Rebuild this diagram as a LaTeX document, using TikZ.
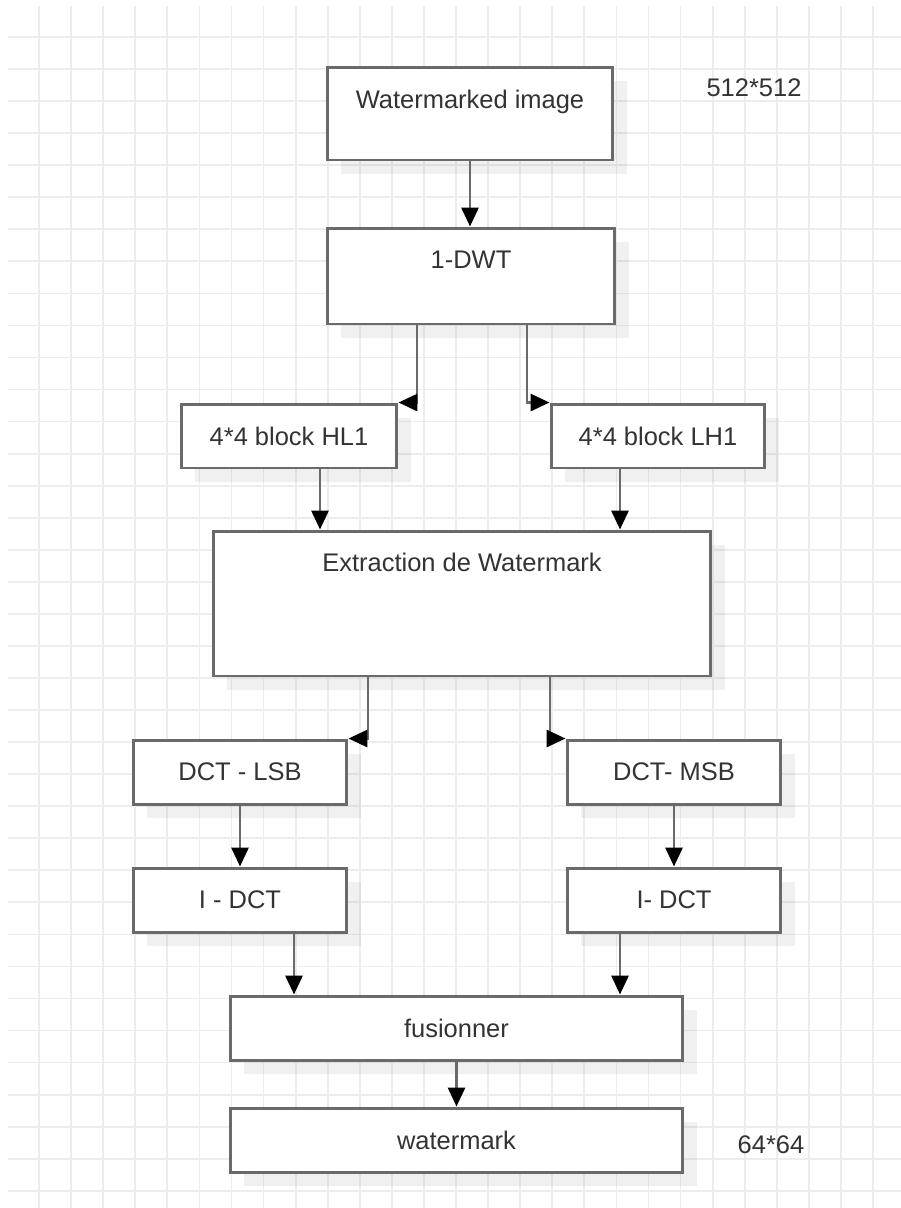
\documentclass[tikz,border=0pt]{standalone}
\usepackage{fontspec}
\setmainfont{Liberation Sans}
\usepackage{xcolor}
\usetikzlibrary{arrows.meta, calc, shadows}

\definecolor{boxgray}{HTML}{6A6A6A}
\definecolor{textgray}{HTML}{333333}
\definecolor{gridgray}{HTML}{EDEDED}

\tikzset{
  box/.style={draw=boxgray, line width=1.7pt, fill=white, text=textgray,
    font=\fontsize{14.5}{17}\selectfont, inner sep=0pt,
    drop shadow={shadow xshift=0.28cm, shadow yshift=-0.28cm, fill=black, opacity=0.06}},
  topbox/.style={box, text height=#1},
  flow/.style={draw=boxgray, line width=1.7pt, -{Triangle[length=0.38cm, width=0.34cm, color=black]}},
  size/.style={text=textgray, font=\fontsize{14.5}{17}\selectfont, inner sep=0pt}
}

\begin{document}
\begin{tikzpicture}[x=0.02cm, y=-0.02cm]
\useasboundingbox (0,0) rectangle (901,1208);
\fill[white] (0,0) rectangle (901,1208);

% grid
\foreach \i in {0,...,26}
  \draw[gridgray, line width=1pt] (39+32.08*\i,6) -- (39+32.08*\i,1208);
\foreach \j in {0,...,36}
  \draw[gridgray, line width=1pt] (8,37+32.05*\j) -- (901,37+32.05*\j);

% boxes
\node[topbox=0.82cm, text depth=1.04cm, minimum width=5.72cm] (wimg) at (470,113.5) {Watermarked image};
\node[topbox=0.8cm, text depth=1.12cm, minimum width=5.76cm] (dwt) at (471,276) {1-DWT};

\node[box, minimum width=4.32cm, minimum height=1.28cm] (hl) at (289,436) {4*4 block HL1};
\node[box, minimum width=4.28cm, minimum height=1.28cm] (lh) at (658,436) {4*4 block LH1};

\node[topbox=0.8cm, text depth=2.1cm, minimum width=9.96cm] (extr) at (462,603.5) {Extraction de Watermark};

\node[box, minimum width=4.28cm, minimum height=1.28cm] (lsb) at (240,772) {DCT - LSB};
\node[box, minimum width=4.28cm, minimum height=1.28cm] (msb) at (674,772) {DCT- MSB};
\node[box, minimum width=4.28cm, minimum height=1.28cm] (idl) at (240,900) {I - DCT};
\node[box, minimum width=4.28cm, minimum height=1.28cm] (idr) at (674,900) {I- DCT};

\node[box, minimum width=9.06cm, minimum height=1.28cm] (fus) at (456.5,1028) {fusionner};
\node[box, minimum width=9.06cm, minimum height=1.28cm] (wm) at (456.5,1140) {watermark};

\node[size] (insize) at (754,88) {512*512};
\node[size] (outsize) at (771,1145) {64*64};

% connectors
\coordinate (dwtl) at ($(dwt.south)+(-54,0)$);
\coordinate (dwtr) at ($(dwt.south)+(56,0)$);
\coordinate (hlout) at ($(hl.south)+(31,0)$);
\coordinate (lhout) at ($(lh.south)+(-38,0)$);
\coordinate (extrl) at ($(extr.south)+(-94,0)$);
\coordinate (extrr) at ($(extr.south)+(88,0)$);
\coordinate (idlout) at ($(idl.south)+(54,0)$);
\coordinate (idrout) at ($(idr.south)+(-54,0)$);

\draw[flow] (wimg.south) -- (wimg.south |- dwt.north);
\draw[flow] (dwtl) |- (hl.north east);
\draw[flow] (dwtr) |- (lh.north west);
\draw[flow] (hlout) -- (hlout |- extr.north);
\draw[flow] (lhout) -- (lhout |- extr.north);
\draw[flow] (extrl) |- (lsb.north east);
\draw[flow] (extrr) |- (msb.north west);
\draw[flow] (lsb.south) -- (idl.north);
\draw[flow] (msb.south) -- (idr.north);
\draw[flow] (idlout) -- (idlout |- fus.north);
\draw[flow] (idrout) -- (idrout |- fus.north);
\draw[flow] (fus.south) -- (wm.north);
\end{tikzpicture}
\end{document}
